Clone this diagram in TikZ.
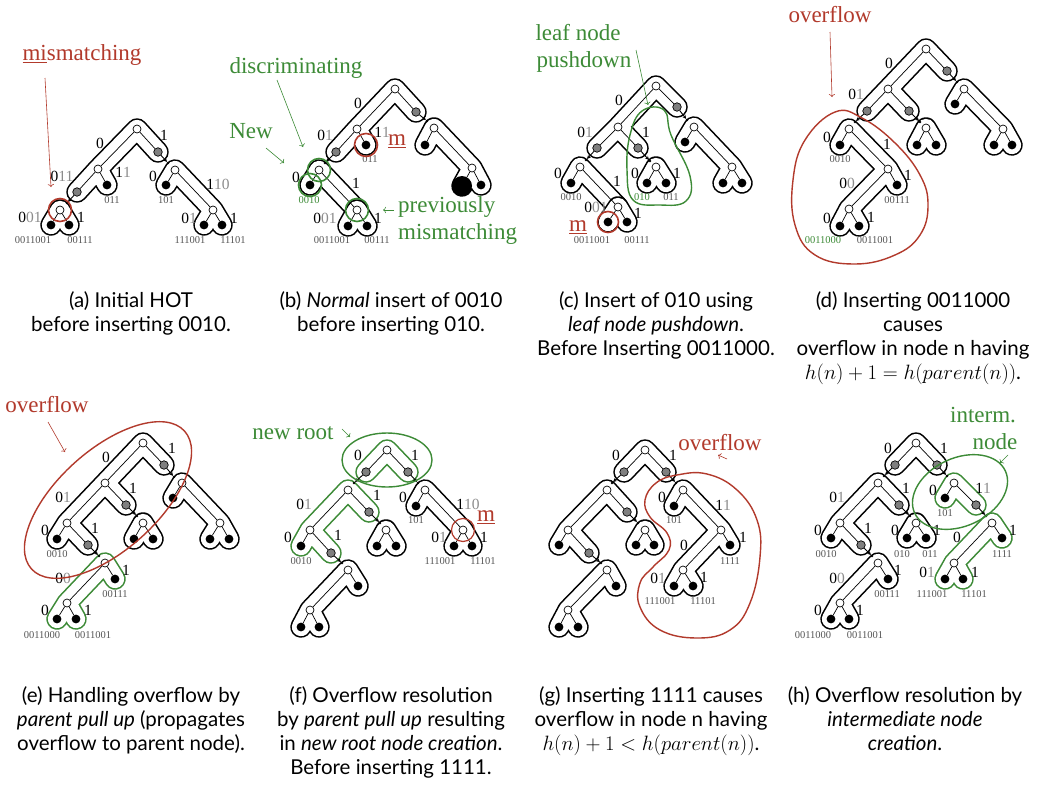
\documentclass[tikz,border=0pt]{standalone}
\usepackage{fontspec}
\setmainfont{Lato}
\newfontfamily\srf{Liberation Serif}
\usetikzlibrary{arrows.meta}
\pgfdeclarelayer{bg}
\pgfsetlayers{bg,main}
\definecolor{rd}{HTML}{B23A2C}
\definecolor{gn}{HTML}{3D8B37}
\definecolor{lg}{HTML}{8C8C8C}
\definecolor{dg}{HTML}{555555}
\definecolor{nodegray}{HTML}{7F7F7F}
\tikzset{
 inn/.style={circle,draw,fill=white,inner sep=0pt,minimum size=8pt,line width=0.7pt},
 lf/.style={circle,fill=black,inner sep=0pt,minimum size=8.8pt},
 lfbig/.style={circle,fill=black,inner sep=0pt,minimum size=20pt},
 gnode/.style={circle,draw,fill=nodegray,inner sep=0pt,minimum size=8.5pt,line width=0.7pt},
 dt/.style={circle,fill=black,inner sep=0pt,minimum size=2.6pt},
 ed/.style={line width=0.7pt},
 ptr/.style={line width=0.9pt,-{Stealth[length=3.8pt,width=3.8pt]}},
 lab/.style={font=\fontsize{15.5}{15.5}\srf, inner sep=0pt},
 leaflab/.style={font=\fontsize{10.5}{11}\srf, text=dg, inner sep=0pt},
 ann/.style={font=\fontsize{23}{25}\srf, inner sep=0pt},
 captxt/.style={font=\fontsize{20.5}{24}\selectfont, align=center, anchor=north, inner sep=0pt},
 tubeo/.style={line width=21.5pt,line cap=round,line join=round},
 tubei/.style={line width=18.3pt,white,line cap=round,line join=round},
 ring/.style={circle,draw,line width=1.6pt,inner sep=0pt,minimum size=23pt},
 annarr/.style={line width=0.6pt,->},
 blob/.style={line width=1.4pt},
}
\newcommand\gp[1]{\textcolor{lg}{#1}}
\newcommand\N[4]{\node[#1] (#2) at (#3,#4) {};}
\newcommand\Lb[4]{\node[lab] (#1) at (#2,#3) {#4};}
\newcommand\Lf[4]{\node[leaflab] (#1) at (#2,#3) {#4};}
\newcommand\tb[2][black]{\begin{pgfonlayer}{bg}\draw[tubeo,#1] #2; \draw[tubei] #2;\end{pgfonlayer}}
\newcommand\pt[2]{\draw[ptr] (#1)--(#2);}
\begin{document}
\begin{tikzpicture}[x=1pt,y=-1pt]
\begin{pgfonlayer}{bg}\fill[white] (0,0) rectangle (1048,798);\end{pgfonlayer}
\useasboundingbox (0,0) rectangle (1048,798);
% ================= (a)
\N{inn}{ar}{137}{129}\N{gnode}{ag1}{158}{152}\N{inn}{al}{98}{169}\N{gnode}{ag2}{77}{192}\N{lf}{ak1}{107}{185}
\N{dt}{ad1}{168}{163}\N{inn}{arr}{175}{170}\N{lf}{ak2}{166}{185}\N{inn}{arw}{213}{210}\N{lf}{ak3}{204}{225}\N{lf}{ak4}{222}{225}
\N{dt}{ad2}{67}{203}\N{inn}{abw}{60}{210}\N{lf}{ak5}{51}{225}\N{lf}{ak6}{69}{225}
\tb{(ag2.center)--(al.center)--(ar.center)--(ag1.center) (al.center)--(ak1.center)}
\tb{(ak2.center)--(arr.center)--(arw.center)--(ak3.center) (arw.center)--(ak4.center)}
\tb{(ak5.center)--(abw.center)--(ak6.center)}
\draw[ed] (ar)--(al) (ar)--(ag1) (al)--(ag2) (al)--(ak1) (arr)--(ak2) (arr)--(arw) (arw)--(ak3) (arw)--(ak4) (abw)--(ak5) (abw)--(ak6);
\pt{ag1}{ad1}\pt{ag2}{ad2}
\Lb{aT1}{100}{143}{0}\Lb{aT2}{164}{135}{1}\Lb{aT3}{62}{176}{0\gp{11}}\Lb{aT4}{123}{172}{1\gp{1}}\Lb{aT5}{153}{176}{0}
\Lb{aT6}{218}{184}{1\gp{10}}\Lb{aT7}{30}{217}{0\gp{01}}\Lb{aT8}{81}{217}{1}\Lb{aT9}{189}{218}{0\gp{1}}\Lb{aT10}{234}{218}{1}
\Lf{aL1}{33}{240}{0011001}\Lf{aL2}{80}{240}{00111}\Lf{aL3}{112}{200}{011}\Lf{aL4}{166}{200}{101}\Lf{aL5}{190}{240}{111001}\Lf{aL6}{233}{240}{11101}
\node[ring,rd] (aC) at (abw) {};
\node[ann,text=rd] (aA) at (82,55) {\underline{mi}smatching};
\coordinate (aA1) at (45,78); \coordinate (aA2) at (51,187);
\draw[annarr,rd] (aA1)--(aA2);
% ================= (b)
\N{inn}{br}{395}{89}\N{gnode}{bg1}{416}{112}\N{inn}{bl}{357}{129}\N{gnode}{bg2}{336}{152}\N{lf}{bk1}{366}{145}
\N{dt}{bd1}{427}{121}\N{inn}{brr}{434}{128}\N{lf}{bk2}{425}{145}\N{inn}{brw}{472}{168}\N{lfbig}{bk3}{462}{186}\N{lf}{bk4}{481}{185}
\N{dt}{bd2}{325}{163}\N{inn}{bnw}{319}{170}\N{lf}{bk5}{310}{185}
\N{inn}{bbw}{357}{210}\N{lf}{bk6}{348}{226}\N{lf}{bk7}{367}{226}
\tb{(bg2.center)--(bl.center)--(br.center)--(bg1.center) (bl.center)--(bk1.center)}
\tb{(bk2.center)--(brr.center)--(brw.center)--(bk3.center) (brw.center)--(bk4.center)}
\tb{(bk5.center)--(bnw.center)--(bbw.center)}
\tb{(bk6.center)--(bbw.center)--(bk7.center)}
\draw[ed] (br)--(bl) (br)--(bg1) (bl)--(bg2) (bl)--(bk1) (brr)--(bk2) (brr)--(brw) (brw)--(bk3) (brw)--(bk4) (bnw)--(bk5) (bnw)--(bbw) (bbw)--(bk6) (bbw)--(bk7);
\pt{bg1}{bd1}\pt{bg2}{bd2}
\Lb{bT1}{358}{103}{0}\Lb{bT2}{325}{135}{0\gp{1}}\Lb{bT3}{382}{132}{1\gp{1}}\Lb{bT4}{296}{177}{0}\Lb{bT5}{356}{183}{1}
\Lb{bT6}{325}{218}{0\gp{01}}\Lb{bT7}{378}{218}{1}
\Lf{bL1}{370}{159}{011}\node[leaflab,text=gn] (bL2) at (309,200) {0010};\Lf{bL3}{332}{240}{0011001}\Lf{bL4}{377}{240}{00111}
\node[ring,gn] (bC1) at (bnw) {};\node[ring,gn] (bC2) at (bk5) {};\node[ring,gn] (bC3) at (bbw) {};\node[ring,rd] (bC4) at (bk1) {};
\node[ann,text=rd] (bM) at (397,141) {\underline{m}};
\node[ann,text=gn] (bA1) at (296,68) {discriminating};
\coordinate (bA1a) at (277,80); \coordinate (bA1b) at (303,147); \draw[annarr,gn] (bA1a)--(bA1b);
\node[ann,text=gn] (bA2) at (251,131) {New};
\coordinate (bA2a) at (266,148); \coordinate (bA2b) at (284,163); \draw[annarr,gn] (bA2a)--(bA2b);
\node[ann,text=gn,anchor=base west] (bA3) at (398,212) {previously};
\node[ann,text=gn,anchor=base west] (bA4) at (398,239) {mismatching};
\coordinate (bA3a) at (394,210); \coordinate (bA3b) at (383,210); \draw[annarr,gn] (bA3a)--(bA3b);
% ================= (c)
\N{inn}{cr}{656}{86}\N{gnode}{cg1}{677}{107}\N{inn}{cl}{618}{127}\N{gnode}{cg2}{597}{148}\N{gnode}{cg3}{638}{148}
\N{dt}{cd1}{687}{120}\N{inn}{crr}{694}{127}\N{lf}{ck1}{685}{142}\N{inn}{crw}{732}{167}\N{lf}{ck2}{723}{183}\N{lf}{ck3}{742}{183}
\N{dt}{cd2}{650}{161}\N{inn}{cmw}{656}{167}\N{lf}{ck4}{647}{183}\N{lf}{ck5}{666}{183}
\N{dt}{cd3}{586}{160}\N{inn}{clw}{580}{167}\N{lf}{ck6}{571}{183}\N{inn}{cbw}{618}{207}\N{lf}{ck7}{608}{222}\N{lf}{ck8}{627}{222}
\tb{(cg2.center)--(cl.center)--(cr.center)--(cg1.center) (cl.center)--(cg3.center)}
\tb{(ck1.center)--(crr.center)--(crw.center)--(ck2.center) (crw.center)--(ck3.center)}
\tb{(ck4.center)--(cmw.center)--(ck5.center)}
\tb{(ck6.center)--(clw.center)--(cbw.center)}
\tb{(ck7.center)--(cbw.center)--(ck8.center)}
\draw[ed] (cr)--(cl) (cr)--(cg1) (cl)--(cg2) (cl)--(cg3) (crr)--(ck1) (crr)--(crw) (crw)--(ck2) (crw)--(ck3) (cmw)--(ck4) (cmw)--(ck5) (clw)--(ck6) (clw)--(cbw) (cbw)--(ck7) (cbw)--(ck8);
\pt{cg1}{cd1}\pt{cg2}{cd3}\pt{cg3}{cd2}
\Lb{cT1}{619}{100}{0}\Lb{cT2}{585}{132}{0\gp{1}}\Lb{cT3}{646}{132}{1}\Lb{cT4}{635}{173}{0}\Lb{cT5}{677}{173}{1}
\Lb{cT6}{558}{173}{0}\Lb{cT7}{617}{181}{1}\Lb{cT8}{596}{207}{0\gp{01}}\Lb{cT9}{638}{213}{1}
\node[leaflab,text=gn] (cL1) at (642,197) {010};\Lf{cL2}{671}{197}{011}\Lf{cL3}{571}{197}{0010}\Lf{cL4}{592}{240}{0011001}\Lf{cL5}{637}{240}{00111}
\node[ring,rd,minimum size=21pt] (cC) at (ck7) {};
\node[ann,text=rd] (cM) at (578,227) {\underline{m}};
\draw[blob,gn] plot[smooth cycle,tension=0.7] coordinates {(642,111) (664,110) (671,135) (690,176) (686,201) (660,205) (633,200) (627,170) (630,135)};
\node[ann,text=gn] (cA1) at (578,33) {leaf node};
\node[ann,text=gn] (cA2) at (584,62) {pushdown};
\coordinate (cA1a) at (636,50); \coordinate (cA1b) at (648,105); \draw[annarr,gn] (cA1a)--(cA1b);
% ================= (d)
\N{inn}{dr}{926}{49}\N{gnode}{dg1}{947}{71}\N{inn}{dl}{888}{89}\N{gnode}{dg2}{867}{111}\N{gnode}{dg3}{909}{111}
\N{dt}{dd1}{957}{82}\N{inn}{drr}{964}{89}\N{lf}{dk1}{955}{104}\N{inn}{drw}{1003}{129}\N{lf}{dk2}{994}{145}\N{lf}{dk3}{1012}{145}
\N{dt}{dd2}{920}{122}\N{inn}{dmw}{926}{128}\N{lf}{dk4}{917}{145}\N{lf}{dk5}{936}{145}
\N{dt}{dd3}{855}{122}\N{inn}{da}{849}{129}\N{lf}{dk6}{840}{145}\N{inn}{db}{888}{169}\N{lf}{dk7}{897}{185}\N{inn}{dc}{849}{209}\N{lf}{dk8}{840}{226}\N{lf}{dk9}{859}{226}
\tb{(dg2.center)--(dl.center)--(dr.center)--(dg1.center) (dl.center)--(dg3.center)}
\tb{(dk1.center)--(drr.center)--(drw.center)--(dk2.center) (drw.center)--(dk3.center)}
\tb{(dk4.center)--(dmw.center)--(dk5.center)}
\tb{(dk6.center)--(da.center)--(db.center)--(dk7.center) (db.center)--(dc.center)--(dk8.center) (dc.center)--(dk9.center)}
\draw[ed] (dr)--(dl) (dr)--(dg1) (dl)--(dg2) (dl)--(dg3) (drr)--(dk1) (drr)--(drw) (drw)--(dk2) (drw)--(dk3) (dmw)--(dk4) (dmw)--(dk5) (da)--(dk6) (da)--(db) (db)--(dk7) (db)--(dc) (dc)--(dk8) (dc)--(dk9);
\pt{dg1}{dd1}\pt{dg2}{dd3}\pt{dg3}{dd2}
\Lb{dT1}{889}{63}{0}\Lb{dT2}{856}{94}{0\gp{1}}\Lb{dT3}{827}{137}{0}\Lb{dT4}{887}{144}{1}\Lb{dT5}{847}{183}{0\gp{0}}
\Lb{dT6}{908}{175}{1}\Lb{dT7}{827}{218}{0}\Lb{dT8}{871}{217}{1}
\Lf{dL1}{840}{159}{0010}\Lf{dL2}{897}{200}{00111}\node[leaflab,text=gn] (dL3) at (823,240) {0011000};\Lf{dL4}{875}{240}{0011001}
\draw[blob,rd] plot[smooth cycle,tension=0.7] coordinates {(835,112) (862,118) (895,143) (920,175) (928,205) (920,235) (895,255) (855,264) (815,255) (795,225) (793,180) (805,140)};
\node[ann,text=rd] (dA) at (830,15) {overflow};
\coordinate (dAa) at (830,32); \coordinate (dAb) at (832,97); \draw[annarr,rd] (dAa)--(dAb);
% ================= (e)
\N{inn}{er}{143}{443}\N{gnode}{eg1}{164}{465}\N{inn}{em}{105}{483}\N{gnode}{eg2}{126}{505}\N{inn}{el}{67}{523}\N{lf}{ek1}{57}{539}\N{gnode}{eg3}{88}{545}
\N{dt}{ed1}{174}{477}\N{inn}{err}{182}{483}\N{lf}{ek2}{173}{498}\N{inn}{erw}{220}{523}\N{lf}{ek3}{210}{539}\N{lf}{ek4}{229}{539}
\N{dt}{ed2}{137}{516}\N{inn}{emw}{143}{523}\N{lf}{ek5}{134}{539}\N{lf}{ek6}{153}{539}
\N{dt}{ed3}{99}{556}\N{inn}{ebw}{105}{563}\N{lf}{ek7}{115}{579}\N{inn}{ecw}{67}{603}\N{lf}{ek8}{57}{619}\N{lf}{ek9}{76}{619}
\tb{(eg1.center)--(er.center)--(em.center)--(eg2.center) (em.center)--(el.center)--(ek1.center) (el.center)--(eg3.center)}
\tb{(ek2.center)--(err.center)--(erw.center)--(ek3.center) (erw.center)--(ek4.center)}
\tb{(ek5.center)--(emw.center)--(ek6.center)}
\tb[gn]{(ek7.center)--(ebw.center)--(ecw.center)--(ek8.center) (ecw.center)--(ek9.center)}
\draw[ed] (er)--(eg1) (er)--(em) (em)--(eg2) (em)--(el) (el)--(ek1) (el)--(eg3) (err)--(ek2) (err)--(erw) (erw)--(ek3) (erw)--(ek4) (emw)--(ek5) (emw)--(ek6) (ebw)--(ek7) (ebw)--(ecw) (ecw)--(ek8) (ecw)--(ek9);
\pt{eg1}{ed1}\pt{eg2}{ed2}\pt{eg3}{ed3}
\Lb{eT1}{172}{448}{1}\Lb{eT2}{106}{457}{0}\Lb{eT3}{63}{497}{0\gp{1}}\Lb{eT4}{133}{488}{1}\Lb{eT5}{45}{530}{0}\Lb{eT6}{95}{528}{1}
\Lb{eT7}{63}{578}{0\gp{0}}\Lb{eT8}{126}{570}{1}\Lb{eT9}{45}{610}{0}\Lb{eT10}{88}{610}{1}
\Lf{eL1}{57}{554}{0010}\Lf{eL2}{115}{594}{00111}\Lf{eL3}{42}{635}{0011000}\Lf{eL4}{93}{635}{0011001}
\draw[blob,rd,rotate around={42:(108,500)}] (108,500) ellipse [x radius=103,y radius=50];
\node[ann,text=rd] (eA) at (47,405) {overflow};
\coordinate (eAa) at (48,422); \coordinate (eAb) at (65,452); \draw[annarr,rd] (eAa)--(eAb);
% ================= (f)
\N{inn}{fr}{387}{450}\N{gnode}{fg1}{366}{472}\N{gnode}{fg2}{408}{472}
\N{dt}{fd1}{354}{483}\N{inn}{fa}{348}{490}\N{gnode}{fg3}{369}{512}\N{inn}{fb}{310}{530}\N{lf}{fk1}{301}{546}\N{gnode}{fg4}{331}{553}
\N{dt}{fd2}{380}{523}\N{inn}{fmw}{386}{530}\N{lf}{fk2}{377}{546}\N{lf}{fk3}{396}{546}
\N{dt}{fd3}{418}{483}\N{inn}{frr}{425}{490}\N{lf}{fk4}{416}{506}\N{inn}{frw}{463}{530}\N{lf}{fk5}{454}{546}\N{lf}{fk6}{472}{546}
\N{dt}{fd4}{342}{563}\N{inn}{fbw}{348}{570}\N{lf}{fk7}{358}{586}\N{inn}{fcw}{310}{610}\N{lf}{fk8}{301}{627}\N{lf}{fk9}{319}{627}
\tb[gn]{(fg1.center)--(fr.center)--(fg2.center)}
\tb[gn]{(fg3.center)--(fa.center)--(fb.center)--(fk1.center) (fb.center)--(fg4.center)}
\tb{(fk2.center)--(fmw.center)--(fk3.center)}
\tb{(fk4.center)--(frr.center)--(frw.center)--(fk5.center) (frw.center)--(fk6.center)}
\tb{(fk7.center)--(fbw.center)--(fcw.center)--(fk8.center) (fcw.center)--(fk9.center)}
\draw[ed] (fr)--(fg1) (fr)--(fg2) (fa)--(fg3) (fa)--(fb) (fb)--(fk1) (fb)--(fg4) (fmw)--(fk2) (fmw)--(fk3) (frr)--(fk4) (frr)--(frw) (frw)--(fk5) (frw)--(fk6) (fbw)--(fk7) (fbw)--(fcw) (fcw)--(fk8) (fcw)--(fk9);
\pt{fg1}{fd1}\pt{fg2}{fd3}\pt{fg3}{fd2}\pt{fg4}{fd4}
\Lb{fT1}{358}{455}{0}\Lb{fT2}{415}{455}{1}\Lb{fT3}{377}{495}{1}\Lb{fT4}{304}{504}{0\gp{1}}\Lb{fT5}{288}{537}{0}\Lb{fT6}{338}{535}{1}
\Lb{fT7}{403}{497}{0}\Lb{fT8}{468}{504}{1\gp{10}}\Lb{fT9}{439}{537}{0\gp{1}}\Lb{fT10}{484}{537}{1}
\Lf{fL1}{301}{561}{0010}\Lf{fL2}{416}{520}{101}\Lf{fL3}{440}{561}{111001}\Lf{fL4}{483}{561}{11101}
\draw[blob,gn] (387,460) ellipse [x radius=45,y radius=27];
\node[ring,rd,line width=1.2pt] (fC) at (frw) {};
\node[ann,text=rd] (fM) at (486,517) {\underline{m}};
\node[ann,text=gn] (fA) at (293,433) {new root};
\coordinate (fAa) at (342,429); \coordinate (fAb) at (350,437); \draw[annarr,gn] (fAa)--(fAb);
% ================= (g)
\N{inn}{gr}{645}{450}\N{gnode}{gg1}{624}{472}\N{gnode}{gg2}{666}{472}
\N{dt}{gd1}{612}{483}\N{inn}{ga}{607}{490}\N{gnode}{gg3}{627}{512}\N{inn}{gb}{568}{530}\N{lf}{gk1}{559}{545}\N{gnode}{gg4}{589}{553}
\N{dt}{gd2}{638}{523}\N{inn}{gmw}{645}{530}\N{lf}{gk2}{636}{545}\N{lf}{gk3}{654}{545}
\N{dt}{gd3}{601}{563}\N{inn}{gbw}{607}{570}\N{lf}{gk4}{616}{586}\N{inn}{gcw}{568}{610}\N{lf}{gk5}{559}{627}\N{lf}{gk6}{578}{627}
\N{dt}{gd4}{676}{483}\N{inn}{grr}{683}{490}\N{lf}{gk7}{674}{506}\N{inn}{grw}{721}{530}\N{lf}{gk8}{730}{545}\N{inn}{gsw}{683}{570}\N{lf}{gk9}{674}{586}\N{lf}{gk10}{693}{586}
\tb{(gg1.center)--(gr.center)--(gg2.center)}
\tb{(gg3.center)--(ga.center)--(gb.center)--(gk1.center) (gb.center)--(gg4.center)}
\tb{(gk2.center)--(gmw.center)--(gk3.center)}
\tb{(gk4.center)--(gbw.center)--(gcw.center)--(gk5.center) (gcw.center)--(gk6.center)}
\tb{(gk7.center)--(grr.center)--(grw.center)--(gk8.center) (grw.center)--(gsw.center)--(gk9.center) (gsw.center)--(gk10.center)}
\draw[ed] (gr)--(gg1) (gr)--(gg2) (ga)--(gg3) (ga)--(gb) (gb)--(gk1) (gb)--(gg4) (gmw)--(gk2) (gmw)--(gk3) (gbw)--(gk4) (gbw)--(gcw) (gcw)--(gk5) (gcw)--(gk6) (grr)--(gk7) (grr)--(grw) (grw)--(gk8) (grw)--(gsw) (gsw)--(gk9) (gsw)--(gk10);
\pt{gg1}{gd1}\pt{gg2}{gd4}\pt{gg3}{gd2}\pt{gg4}{gd3}
\Lb{gT1}{616}{455}{0}\Lb{gT2}{673}{455}{1}\Lb{gT3}{662}{497}{0}\Lb{gT4}{723}{505}{1\gp{1}}\Lb{gT5}{684}{545}{0}\Lb{gT6}{743}{537}{1}
\Lb{gT7}{658}{578}{0\gp{1}}\Lb{gT8}{704}{577}{1}
\Lf{gL1}{674}{520}{101}\Lf{gL2}{730}{561}{1111}\Lf{gL3}{660}{601}{111001}\Lf{gL4}{703}{601}{11101}
\draw[blob,rd] plot[smooth cycle,tension=0.7] coordinates {(677,475) (707,474) (737,490) (757,520) (760,557) (750,603) (730,630) (697,638) (660,630) (640,607) (640,583) (653,567) (669,550) (667,533) (650,517) (645,500) (656,483)};
\node[ann,text=rd] (gA) at (720,443) {overflow};
\coordinate (gAa) at (727,459); \coordinate (gAb) at (718,455); \draw[annarr,rd] (gAa)--(gAb);
% ================= (h)
\N{inn}{hr}{916}{443}\N{gnode}{hg1}{895}{465}\N{gnode}{hg2}{937}{465}
\N{dt}{hd1}{884}{476}\N{inn}{ha}{878}{483}\N{gnode}{hg3}{899}{505}\N{inn}{hb}{840}{523}\N{lf}{hk1}{831}{538}\N{gnode}{hg4}{861}{545}
\N{dt}{hd2}{910}{516}\N{inn}{hmw}{916}{523}\N{lf}{hk2}{907}{538}\N{lf}{hk3}{926}{538}
\N{dt}{hd3}{872}{556}\N{inn}{hbw}{878}{563}\N{lf}{hk4}{888}{579}\N{inn}{hcw}{840}{603}\N{lf}{hk5}{831}{619}\N{lf}{hk6}{849}{619}
\N{dt}{hd4}{947}{476}\N{inn}{hiw}{954}{483}\N{lf}{hk7}{945}{498}\N{gnode}{hg5}{976}{505}
\N{dt}{hd5}{986}{516}\N{inn}{hrw}{992}{523}\N{lf}{hk8}{1002}{538}\N{inn}{hsw}{954}{563}\N{lf}{hk9}{945}{579}\N{lf}{hk10}{963}{579}
\tb{(hg1.center)--(hr.center)--(hg2.center)}
\tb{(hg3.center)--(ha.center)--(hb.center)--(hk1.center) (hb.center)--(hg4.center)}
\tb{(hk2.center)--(hmw.center)--(hk3.center)}
\tb{(hk4.center)--(hbw.center)--(hcw.center)--(hk5.center) (hcw.center)--(hk6.center)}
\tb[gn]{(hk7.center)--(hiw.center)--(hg5.center)}
\tb[gn]{(hk8.center)--(hrw.center)--(hsw.center)--(hk9.center) (hsw.center)--(hk10.center)}
\draw[ed] (hr)--(hg1) (hr)--(hg2) (ha)--(hg3) (ha)--(hb) (hb)--(hk1) (hb)--(hg4) (hmw)--(hk2) (hmw)--(hk3) (hbw)--(hk4) (hbw)--(hcw) (hcw)--(hk5) (hcw)--(hk6) (hiw)--(hk7) (hiw)--(hg5) (hrw)--(hk8) (hrw)--(hsw) (hsw)--(hk9) (hsw)--(hk10);
\pt{hg1}{hd1}\pt{hg2}{hd4}\pt{hg3}{hd2}\pt{hg4}{hd3}\pt{hg5}{hd5}
\Lb{hT1}{888}{448}{0}\Lb{hT2}{944}{448}{1}\Lb{hT3}{837}{497}{0\gp{1}}\Lb{hT4}{906}{488}{1}\Lb{hT5}{818}{530}{0}\Lb{hT6}{868}{528}{1}
\Lb{hT7}{895}{530}{0}\Lb{hT8}{937}{530}{1}\Lb{hT9}{837}{578}{0\gp{0}}\Lb{hT10}{898}{570}{1}\Lb{hT11}{818}{610}{0}\Lb{hT12}{860}{610}{1}
\Lb{hT13}{933}{490}{0}\Lb{hT14}{983}{488}{1\gp{1}}\Lb{hT15}{957}{537}{0}\Lb{hT16}{1013}{530}{1}\Lb{hT17}{927}{572}{0\gp{1}}\Lb{hT18}{975}{572}{1}
\Lf{hL1}{826}{554}{0010}\Lf{hL2}{902}{554}{010}\Lf{hL3}{930}{554}{011}\Lf{hL4}{887}{594}{00111}\Lf{hL5}{813}{635}{0011000}\Lf{hL6}{865}{635}{0011001}
\Lf{hL7}{945}{513}{101}\Lf{hL8}{1002}{554}{1111}\Lf{hL9}{932}{594}{111001}\Lf{hL10}{974}{594}{11101}
\draw[blob,gn,rotate around={25:(960,492)}] (960,492) ellipse [x radius=50,y radius=34];
\node[ann,text=gn] (hA1) at (983,415) {interm.};
\node[ann,text=gn] (hA2) at (995,442) {node};
\coordinate (hAa) at (1008,455); \coordinate (hAb) at (1000,463); \draw[annarr,gn] (hAa)--(hAb);
% ================= captions
\node[captxt] (capa) at (131,291) {(a) Initial HOT\\before inserting 0010.};
\node[captxt] (capb) at (391,291) {(b) \textit{Normal} insert of 0010\\before inserting 010.};
\node[captxt] (capc) at (656,291) {(c) Insert of 010 using\\\textit{leaf node pushdown}.\\Before Inserting 0011000.};
\node[captxt] (capd) at (913,291) {(d) Inserting 0011000\\causes\\overflow in node n having\\$h(n)+1=h(parent(n))$.};
\node[captxt] (cape) at (131,686) {(e) Handling overflow by\\\textit{parent pull up} (propagates\\overflow to parent node).};
\node[captxt] (capf) at (391,686) {(f) Overflow resolution\\by \textit{parent pull up} resulting\\in \textit{new root node creation}.\\Before inserting 1111.};
\node[captxt] (capg) at (651,686) {(g) Inserting 1111 causes\\overflow in node n having\\$h(n)+1<h(parent(n))$.};
\node[captxt] (caph) at (905,686) {(h) Overflow resolution by\\\textit{intermediate node}\\\textit{creation}.};
\end{tikzpicture}
\end{document}
